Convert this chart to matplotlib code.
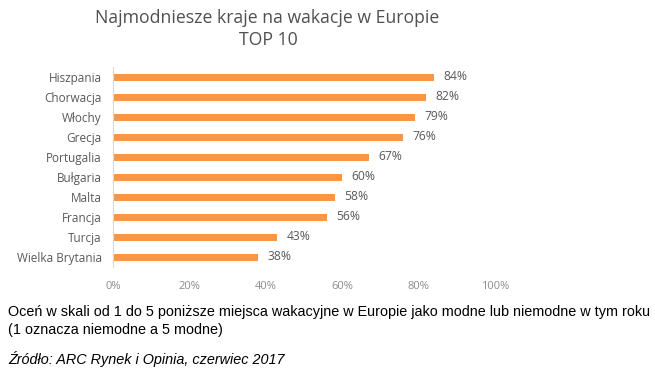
import matplotlib
matplotlib.use("Agg")
import matplotlib.pyplot as plt

# data
countries = ["Hiszpania", "Chorwacja", "Włochy", "Grecja", "Portugalia",
             "Bułgaria", "Malta", "Francja", "Turcja", "Wielka Brytania"]
values = [84, 82, 79, 76, 67, 60, 58, 56, 43, 38]
x_ticks = [0, 20, 40, 60, 80, 100]

bar_color = "#F79646"
text_gray = "#595959"

fig = plt.figure(figsize=(6.55, 3.79), dpi=100)
W, H = 655, 379
ax = fig.add_axes([113 / W, 1 - 267 / H, (495 - 113) / W, 200 / H])

pos = list(range(len(countries)))
ax.barh(pos, values, height=0.35, color=bar_color)
ax.set_ylim(len(countries) - 0.5, -0.5)
ax.set_xlim(0, 100)

for p, v in zip(pos, values):
    ax.text(v + 2.5, p, f"{v}%", va="center", ha="left",
            fontsize=8.7, color=text_gray, family="Open Sans")

ax.set_yticks(pos)
ax.set_yticklabels(countries, fontsize=8.5, color=text_gray, family="Open Sans")
ax.set_xticks(x_ticks)
ax.set_xticklabels([f"{t}%" for t in x_ticks], fontsize=8, color="#8c8c8c",
                   family="Open Sans")
ax.tick_params(axis="both", length=0)
ax.tick_params(axis="y", pad=8)
ax.tick_params(axis="x", pad=10)

for s in ["top", "right", "bottom"]:
    ax.spines[s].set_visible(False)
ax.spines["left"].set_color("#d9d9d9")
ax.spines["left"].set_linewidth(0.8)

fig.text(267 / W, 1 - 18 / H, "Najmodniesze kraje na wakacje w Europie",
         ha="center", va="center", fontsize=12.7, color="#505050", family="Open Sans")
fig.text(268 / W, 1 - 40 / H, "TOP 10",
         ha="center", va="center", fontsize=12.7, color="#505050", family="Open Sans")

fig.text(8 / W, 1 - 312 / H,
         "Oceń w skali od 1 do 5 poniższe miejsca wakacyjne w Europie jako modne lub niemodne w tym roku",
         ha="left", va="center", fontsize=10.4, color="black", family="Liberation Sans")
fig.text(8 / W, 1 - 330 / H, "(1 oznacza niemodne a 5 modne)",
         ha="left", va="center", fontsize=10.4, color="black", family="Liberation Sans")
fig.text(8 / W, 1 - 359 / H, "Źródło: ARC Rynek i Opinia, czerwiec 2017",
         ha="left", va="center", fontsize=10.4, color="black", style="italic",
         family="Liberation Sans")

fig.savefig("out.png", dpi=100)
